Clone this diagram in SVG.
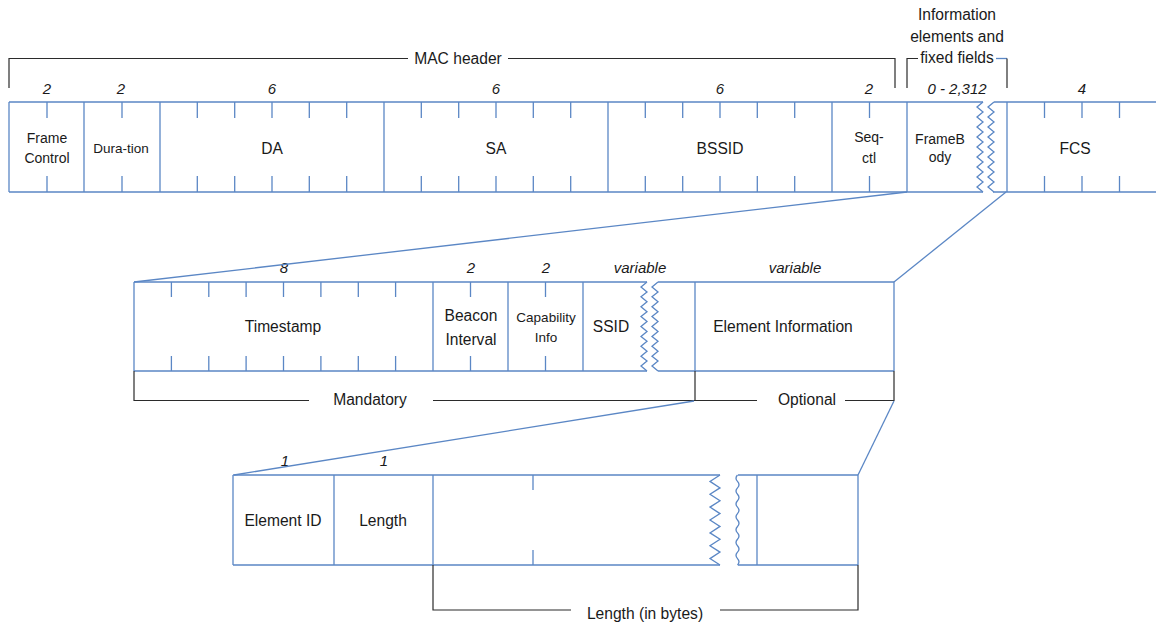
<svg xmlns="http://www.w3.org/2000/svg" width="1156" height="624" viewBox="0 0 1156 624">
<style>
.b{stroke:#5b87c5;stroke-width:1.3;fill:none}
.k{stroke:#2b2b2b;stroke-width:1.2;fill:none}
.t{font-family:"Liberation Sans",Arial,sans-serif;font-size:15.6px;fill:#1a1a1a;text-anchor:middle}
.s{font-size:13.5px}
.m{font-size:14px}
.i{font-style:italic;font-size:15px}
</style>
<rect width="1156" height="624" fill="#ffffff"/>

<!-- Brackets / group labels -->
<g id="mac-header-bracket">
  <path class="k" d="M9 88 V58.5 H408 M508 58.5 H895 V88"/>
  <text class="t" x="458" y="64">MAC header</text>
</g>
<g id="info-bracket">
  <path class="k" d="M907 88 V58.5 H918"/>
  <path class="b" d="M996 58.5 H1007"/>
  <path class="k" d="M1007 58.5 V88"/>
  <text class="t" x="957" y="20">Information</text>
  <text class="t" x="957" y="42">elements and</text>
  <text class="t" x="957" y="63">fixed fields</text>
</g>

<!-- Top row: MAC frame -->
<g id="mac-frame">
  <path class="b" d="M9 102 H983 M994 102 H1156 M9 192 H983 M993 192 H1156"/>
  <path class="b" d="M9 102 V192 M84 102 V192 M160 102 V192 M384 102 V192 M608 102 V192 M832 102 V192 M907 102 V192 M1007 102 V192"/>
  <path class="b" d="M47 102V118M47 176V192 M122 102V118M122 176V192 M197.3 102V118M197.3 176V192 M234.7 102V118M234.7 176V192 M272 102V118M272 176V192 M309.3 102V118M309.3 176V192 M346.7 102V118M346.7 176V192 M421.3 102V118M421.3 176V192 M458.7 102V118M458.7 176V192 M496 102V118M496 176V192 M533.3 102V118M533.3 176V192 M570.7 102V118M570.7 176V192 M645.3 102V118M645.3 176V192 M682.7 102V118M682.7 176V192 M720 102V118M720 176V192 M757.3 102V118M757.3 176V192 M794.7 102V118M794.7 176V192 M869.5 102V118M869.5 176V192 M1044.5 102V118M1044.5 176V192 M1082 102V118M1082 176V192 M1119.5 102V118M1119.5 176V192"/>
  <path class="b" d="M983 102 L977 107 L983 112 L977 117 L983 122 L977 127 L983 132 L977 137 L983 142 L977 147 L983 152 L977 157 L983 162 L977 167 L983 172 L977 177 L983 182 L977 187 L983 192"/>
  <path class="b" d="M994 102 L988 107 L994 112 L988 117 L994 122 L988 127 L994 132 L988 137 L994 142 L988 147 L994 152 L988 157 L994 162 L988 167 L994 172 L988 177 L994 182 L988 187 L994 192"/>
</g>
<g id="frame-control">
  <text class="t i" x="47" y="94">2</text>
  <text class="t m" x="47" y="143">Frame</text>
  <text class="t m" x="47" y="163">Control</text>
</g>
<g id="duration">
  <text class="t i" x="121" y="94">2</text>
  <text class="t s" x="121" y="153">Dura-tion</text>
</g>
<g id="da">
  <text class="t i" x="272" y="94">6</text>
  <text class="t" x="272" y="154">DA</text>
</g>
<g id="sa">
  <text class="t i" x="496" y="94">6</text>
  <text class="t" x="496" y="154">SA</text>
</g>
<g id="bssid">
  <text class="t i" x="720" y="94">6</text>
  <text class="t" x="720" y="154">BSSID</text>
</g>
<g id="seq-ctl">
  <text class="t i" x="869" y="94">2</text>
  <text class="t m" x="869" y="142">Seq-</text>
  <text class="t m" x="869" y="163">ctl</text>
</g>
<g id="frame-body">
  <text class="t i" x="957" y="94">0 - 2,312</text>
  <text class="t m" x="940" y="144">FrameB</text>
  <text class="t m" x="940" y="162">ody</text>
</g>
<g id="fcs">
  <text class="t i" x="1082" y="94">4</text>
  <text class="t" x="1075" y="154">FCS</text>
</g>

<!-- Middle row: frame body -->
<g id="frame-body-detail">
  <path class="b" d="M134 282 H647 M658 282 H894 M134 371 H647 M658 371 H894"/>
  <path class="b" d="M134 282 V371 M433 282 V371 M508 282 V371 M583 282 V371 M695 282 V371 M894 282 V371"/>
  <path class="b" d="M171.4 282V297M171.4 356V371 M208.8 282V297M208.8 356V371 M246.1 282V297M246.1 356V371 M283.5 282V297M283.5 356V371 M320.9 282V297M320.9 356V371 M358.3 282V297M358.3 356V371 M395.6 282V297M395.6 356V371 M470.5 282V297M470.5 356V371 M545.5 282V297M545.5 356V371"/>
  <path class="b" d="M647 282 L641 286.9 L647 291.9 L641 296.8 L647 301.8 L641 306.7 L647 311.7 L641 316.6 L647 321.6 L641 326.5 L647 331.4 L641 336.4 L647 341.3 L641 346.3 L647 351.2 L641 356.2 L647 361.1 L641 366.1 L647 371"/>
  <path class="b" d="M658 282 L652 286.9 L658 291.9 L652 296.8 L658 301.8 L652 306.7 L658 311.7 L652 316.6 L658 321.6 L652 326.5 L658 331.4 L652 336.4 L658 341.3 L652 346.3 L658 351.2 L652 356.2 L658 361.1 L652 366.1 L658 371"/>
</g>
<g id="timestamp">
  <text class="t i" x="284" y="273">8</text>
  <text class="t" x="283" y="332">Timestamp</text>
</g>
<g id="beacon-interval">
  <text class="t i" x="471" y="273">2</text>
  <text class="t" x="471" y="321">Beacon</text>
  <text class="t" x="471" y="345">Interval</text>
</g>
<g id="capability-info">
  <text class="t i" x="546" y="273">2</text>
  <text class="t s" x="546" y="322">Capability</text>
  <text class="t s" x="546" y="342">Info</text>
</g>
<g id="ssid">
  <text class="t i" x="640" y="273">variable</text>
  <text class="t" x="611" y="332">SSID</text>
</g>
<g id="element-information">
  <text class="t i" x="795" y="273">variable</text>
  <text class="t" x="783" y="332">Element Information</text>
</g>
<g id="mandatory-bracket">
  <path class="k" d="M134 371 V400.5 H309 M433 400.5 H695 V371"/>
  <text class="t" x="370" y="405">Mandatory</text>
</g>
<g id="optional-bracket">
  <path class="k" d="M695 400.5 H757 M845 400.5 H894 V371"/>
  <text class="t" x="807" y="405">Optional</text>
</g>

<!-- Bottom row: information element -->
<g id="element-detail">
  <path class="b" d="M233 475 H720 M738 475 H858 M233 565 H720 M738 565 H858"/>
  <path class="b" d="M233 475 V565 M334 475 V565 M433 475 V565 M757 475 V565 M858 475 V565"/>
  <path class="b" d="M533 475V490M533 550V565"/>
  <path class="b" d="M720 475 L710 481.4 L720 487.9 L710 494.3 L720 500.7 L710 507.1 L720 513.6 L710 520 L720 526.4 L710 532.9 L720 539.3 L710 545.7 L720 552.1 L710 558.6 L720 565"/>
  <path class="b" d="M737.5 475 q -3 3.2 0 6.43 q 3 3.2 0 6.43 q -3 3.2 0 6.43 q 3 3.2 0 6.43 q -3 3.2 0 6.43 q 3 3.2 0 6.43 q -3 3.2 0 6.43 q 3 3.2 0 6.43 q -3 3.2 0 6.43 q 3 3.2 0 6.43 q -3 3.2 0 6.43 q 3 3.2 0 6.43 q -3 3.2 0 6.43 q 3 3.2 0 6.43"/>
</g>
<g id="element-id">
  <text class="t i" x="285" y="466">1</text>
  <text class="t" x="283" y="526">Element ID</text>
</g>
<g id="length">
  <text class="t i" x="384" y="466">1</text>
  <text class="t" x="383" y="526">Length</text>
</g>
<g id="length-bracket">
  <path class="k" d="M433 565 V610 H571 M720 610 H858 V565"/>
  <text class="t" x="645" y="619">Length (in bytes)</text>
</g>

<!-- Connectors -->
<g id="connectors">
  <path class="b" d="M907 192 L134 282"/>
  <path class="b" d="M1006 192 L894 282"/>
  <path class="b" d="M694 401 L234 475"/>
  <path class="b" d="M894 401 L858 475"/>
</g>
</svg>
